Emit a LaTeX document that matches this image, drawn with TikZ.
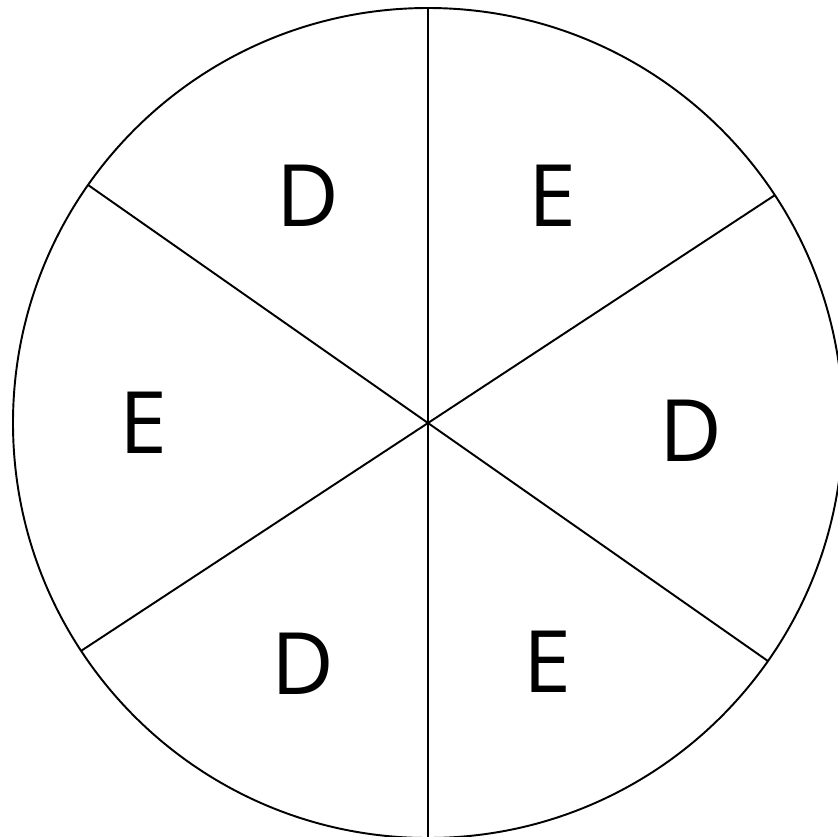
\documentclass[tikz,border=0pt]{standalone}
\usepackage{fontspec}
\setmainfont{Open Sans}
\usepackage{tikz}
\usetikzlibrary{positioning}

\tikzset{
  rim/.style={draw, line width=1.1pt},
  spoke/.style={line width=1.1pt},
  lbl/.style={inner sep=0pt, font=\fontsize{49}{50}\selectfont}
}

\begin{document}
\begin{tikzpicture}[x=0.02cm, y=0.02cm]
  \useasboundingbox (-428,-413) rectangle (410,423);
  \clip (-428,-413) rectangle (410,423);
  \coordinate (o) at (0,0);
  \coordinate (n) at (90:415);   \coordinate (s) at (270:415);
  \coordinate (nw) at (145:415); \coordinate (se) at (-35:415);
  \coordinate (ne) at (33.3:415); \coordinate (sw) at (213.3:415);
  \draw[rim] (o) circle (415);
  \draw[spoke] (n) -- (s);
  \draw[spoke] (nw) -- (se);
  \draw[spoke] (ne) -- (sw);
  \node[lbl] (d1) at (-120,227) {D};
  \node[lbl] (e1) at (124,227) {E};
  \node[lbl] (e2) at (-285,0) {E};
  \node[lbl] (d2) at (263,-8) {D};
  \node[lbl] (d3) at (-125,-241) {D};
  \node[lbl] (e3) at (119,-239) {E};
\end{tikzpicture}
\end{document}
